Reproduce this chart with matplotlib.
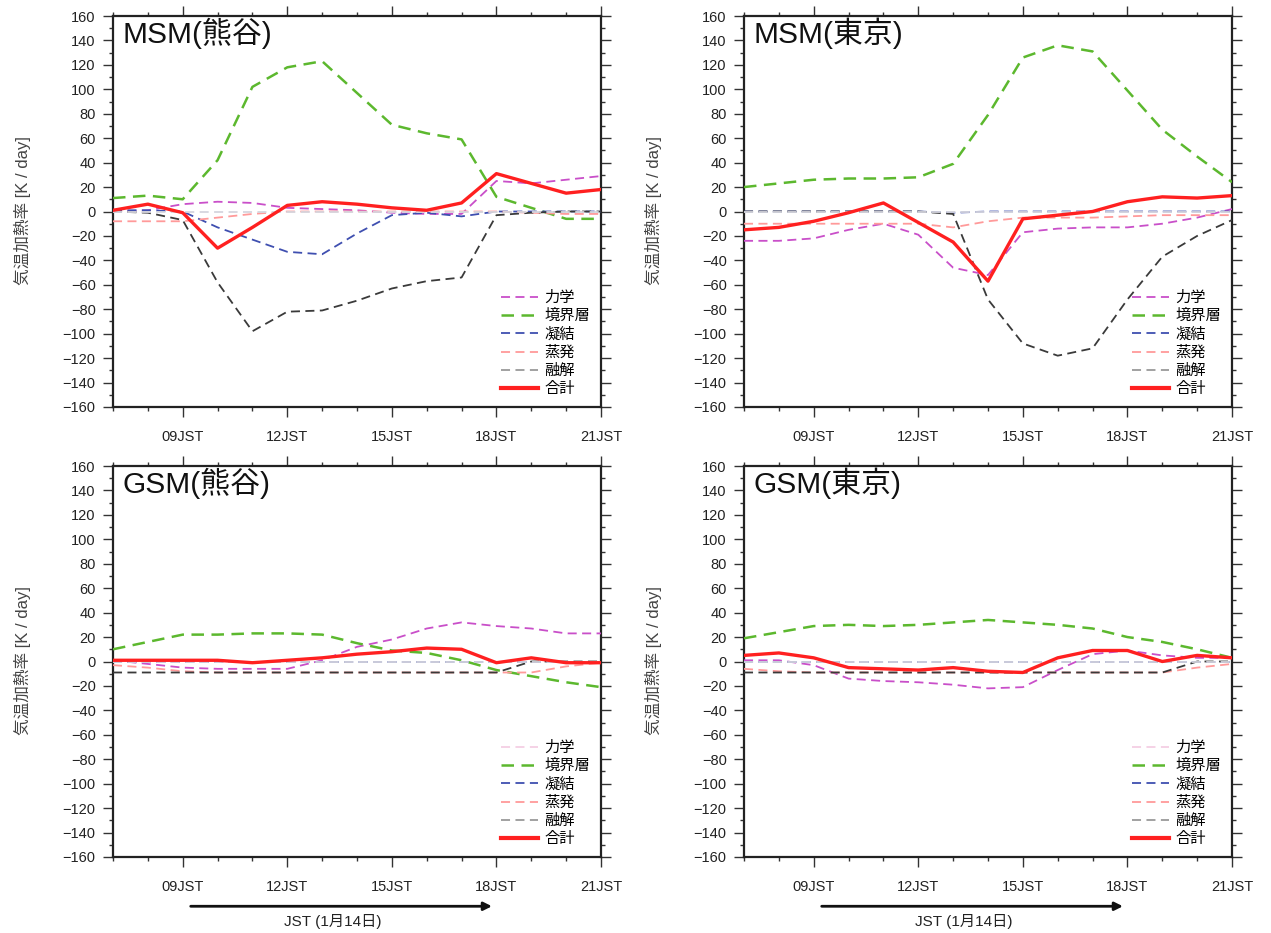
import matplotlib
matplotlib.use("Agg")
import matplotlib.pyplot as plt
from matplotlib.lines import Line2D
from matplotlib.ticker import MultipleLocator, FixedLocator

plt.rcParams['font.family'] = ['Liberation Sans', 'Noto Sans CJK JP', 'DejaVu Sans']

hours = [7, 8, 9, 10, 11, 12, 13, 14, 15, 16, 17, 18, 19, 20, 21]
tick_hours = [9, 12, 15, 18, 21]
tick_labels = ['09JST', '12JST', '15JST', '18JST', '21JST']
names = ['力学', '境界層', '凝結', '蒸発', '融解', '合計']

# MSM 熊谷
mk_dyn = [0, 1, 6, 8, 7, 3, 2, 1, -1, -2, -2, 25, 23, 26, 29]
mk_pbl = [11, 13, 10, 42, 102, 118, 123, 97, 71, 64, 59, 12, 3, -6, -6]
mk_cnd = [1, 1, 0, -13, -23, -33, -35, -18, -3, -1, -4, 0, 0, 0, 0]
mk_evp = [-8, -8, -8, -5, -2, 0, 0, 0, 0, 0, 0, 0, -1, -2, -2]
mk_mlt = [0, -1, -7, -58, -98, -82, -81, -73, -63, -57, -54, -3, -1, 0, 0]
mk_tot = [1, 6, -1, -30, -13, 5, 8, 6, 3, 1, 7, 31, 23, 15, 18]

# MSM 東京
mt_dyn = [-24, -24, -22, -15, -10, -19, -46, -52, -17, -14, -13, -13, -10, -5, 2]
mt_pbl = [20, 23, 26, 27, 27, 28, 39, 79, 126, 136, 131, 99, 67, 45, 24]
mt_cnd = [0, 0, 0, 0, 0, 0, -1, 0, 0, 0, 0, 0, 0, 0, 0]
mt_evp = [-10, -10, -10, -10, -10, -10, -13, -8, -5, -5, -5, -4, -3, -3, -3]
mt_mlt = [0, 0, 0, 0, 0, 0, -2, -72, -108, -118, -112, -72, -37, -20, -7]
mt_tot = [-15, -13, -8, -1, 7, -9, -25, -57, -6, -3, 0, 8, 12, 11, 13]

# GSM 熊谷
gk_dyn = [1, -2, -5, -6, -6, -6, 1, 12, 18, 27, 32, 29, 27, 23, 23]
gk_pbl = [10, 16, 22, 22, 23, 23, 22, 15, 9, 7, 1, -7, -12, -17, -21]
gk_cnd = [0, 0, 0, 0, 0, 0, 0, 0, 0, 0, 0, 0, 0, 0, 0]
gk_evp = [-3, -5, -8, -9, -9, -9, -9, -9, -9, -9, -9, -9, -9, -4, -1]
gk_mlt = [-9, -9, -9, -9, -9, -9, -9, -9, -9, -9, -9, -9, 0, 0, 0]
gk_tot = [1, 1, 1, 1, -1, 1, 3, 6, 8, 11, 10, -1, 3, -1, -1]

# GSM 東京
gt_dyn = [1, 1, -3, -14, -16, -17, -19, -22, -21, -7, 6, 9, 5, 3, 3]
gt_pbl = [19, 24, 29, 30, 29, 30, 32, 34, 32, 30, 27, 20, 16, 10, 3]
gt_cnd = [0, 0, 0, 0, 0, 0, 0, 0, 0, 0, 0, 0, 0, 0, 0]
gt_evp = [-6, -8, -9, -9, -9, -9, -9, -9, -9, -9, -9, -9, -9, -5, -2]
gt_mlt = [-9, -9, -9, -9, -9, -9, -9, -9, -9, -9, -9, -9, -9, 0, 0]
gt_tot = [5, 7, 3, -5, -6, -7, -5, -8, -9, 3, 9, 9, 0, 5, 3]

colors = ['#c94fc9', '#5cb82e', '#3f4fb0', '#ff9a9a', '#3a3a3a', '#ff2020']
widths = [1.3, 1.8, 1.3, 1.3, 1.3, 2.4]

panels = [
    ('MSM(熊谷)', [mk_dyn, mk_pbl, mk_cnd, mk_evp, mk_mlt, mk_tot]),
    ('MSM(東京)', [mt_dyn, mt_pbl, mt_cnd, mt_evp, mt_mlt, mt_tot]),
    ('GSM(熊谷)', [gk_dyn, gk_pbl, gk_cnd, gk_evp, gk_mlt, gk_tot]),
    ('GSM(東京)', [gt_dyn, gt_pbl, gt_cnd, gt_evp, gt_mlt, gt_tot]),
]
# legend sample of 力学 is nearly white in the GSM panels
legend_dyn_color = ['#c94fc9', '#c94fc9', '#f5cfe4', '#f5cfe4']

W, H = 1271, 933
fig = plt.figure(figsize=(W / 100, H / 100), dpi=100)
lefts = [113, 744, 113, 744]
tops = [16, 16, 466, 466]

for i, (title, series) in enumerate(panels):
    ax = fig.add_axes([lefts[i] / W, 1 - (tops[i] + 391) / H, 488 / W, 391 / H])
    # light zero line drawn over the dashed terms, under the total
    ax.axhline(0, color='#d6d6de', lw=1.3, dashes=(5, 3), zorder=4)
    for j, vals in enumerate(series):
        if j == 5:
            ax.plot(hours, vals, color=colors[j], lw=widths[j], zorder=5)
        else:
            ax.plot(hours, vals, color=colors[j], lw=widths[j], dashes=(5, 3), zorder=3)
    ax.set_xlim(7, 21)
    ax.set_ylim(-160, 160)
    ax.yaxis.set_major_locator(MultipleLocator(20))
    ax.yaxis.set_minor_locator(MultipleLocator(10))
    ax.xaxis.set_major_locator(FixedLocator(tick_hours))
    ax.xaxis.set_minor_locator(MultipleLocator(1))
    ax.set_xticklabels(tick_labels)
    ax.tick_params(which='both', direction='out', top=True, right=True,
                   color='#333333', width=1.0, labelsize=10.5, labelcolor='#222222')
    ax.tick_params(which='major', length=7.5)
    ax.tick_params(which='minor', length=3)
    ax.tick_params(axis='x', which='major', pad=9)
    ax.tick_params(axis='y', which='major', pad=5)
    for sp in ax.spines.values():
        sp.set_linewidth(1.6)
        sp.set_color('#222222')
    ax.text(0.02, 0.955, title, transform=ax.transAxes, fontsize=21.5,
            va='center', ha='left', color='#111111')

    handles = []
    for j in range(6):
        c = legend_dyn_color[i] if j == 0 else colors[j]
        if j == 5:
            handles.append(Line2D([], [], color=c, lw=widths[j] + 0.6))
        elif j == 4:
            handles.append(Line2D([], [], color='#9a9a9a', lw=widths[j], dashes=(5, 3)))
        else:
            handles.append(Line2D([], [], color=c, lw=widths[j], dashes=(5, 3)))
    ax.legend(handles, names, loc='lower right', bbox_to_anchor=(1.0, 0.0),
              frameon=False, fontsize=11, handlelength=2.4, handletextpad=0.45,
              labelspacing=0.27, borderaxespad=0.3)

    fig.text((22 + (lefts[i] - 113)) / W, 1 - (tops[i] + 195) / H,
             '気温加熱率 [K / day]', rotation=90, ha='center', va='center',
             fontsize=12, color='#444444')

    if i >= 2:
        ax.annotate('', xy=(17.95, -0.126), xytext=(9.15, -0.126),
                    xycoords=('data', 'axes fraction'),
                    textcoords=('data', 'axes fraction'),
                    arrowprops=dict(arrowstyle='-|>', lw=2, color='#111111',
                                    mutation_scale=12),
                    annotation_clip=False)
        ax.text(13.3, -0.165, 'JST (1月14日)', transform=ax.get_xaxis_transform(),
                ha='center', va='center', fontsize=11, color='#222222')

fig.savefig('out.png', dpi=100)
